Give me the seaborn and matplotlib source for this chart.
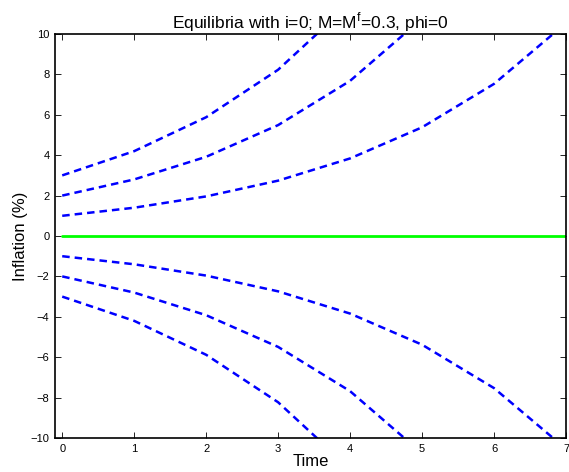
import matplotlib
matplotlib.use("Agg")
import matplotlib.pyplot as plt
import seaborn as sns
import pandas as pd

# Inflation paths over time for each equilibrium
time = [0, 1, 2, 3, 4, 5, 6, 7]
path_p1 = [1.00, 1.40, 1.96, 2.74, 3.84, 5.38, 7.53, 10.54]
path_p2 = [2.00, 2.80, 3.92, 5.49, 7.68, 10.76, 15.06, 21.08]
path_p3 = [3.00, 4.20, 5.88, 8.23, 11.52, 16.13, 22.59, 31.62]
path_m1 = [-1.00, -1.40, -1.96, -2.74, -3.84, -5.38, -7.53, -10.54]
path_m2 = [-2.00, -2.80, -3.92, -5.49, -7.68, -10.76, -15.06, -21.08]
path_m3 = [-3.00, -4.20, -5.88, -8.23, -11.52, -16.13, -22.59, -31.62]
path_zero = [0, 0, 0, 0, 0, 0, 0, 0]

x_ticks = [0, 1, 2, 3, 4, 5, 6, 7]
y_ticks = [-10, -8, -6, -4, -2, 0, 2, 4, 6, 8, 10]

sns.set_style("white", {"text.color": "black", "axes.labelcolor": "black",
                        "xtick.color": "black", "ytick.color": "black"})
plt.rcParams["font.family"] = ["Liberation Sans", "DejaVu Sans"]

paths = {"p3": path_p3, "p2": path_p2, "p1": path_p1,
         "m1": path_m1, "m2": path_m2, "m3": path_m3}
df = pd.concat(
    [pd.DataFrame({"time": time, "inflation": v, "path": k}) for k, v in paths.items()],
    ignore_index=True,
)
df_zero = pd.DataFrame({"time": time, "inflation": path_zero})

fig = plt.figure(figsize=(5.69, 4.72), dpi=100)
ax = fig.add_axes([0.0967, 0.072, 0.898, 0.856])

for name, grp in df.groupby("path"):
    sns.lineplot(data=grp, x="time", y="inflation", ax=ax, color=(0, 0, 1),
                 linewidth=1.8, dashes=False, legend=False)
for ln in ax.get_lines():
    ln.set_dashes((3.0, 2.0))
sns.lineplot(data=df_zero, x="time", y="inflation", ax=ax, color=(0, 1, 0),
             linewidth=2, legend=False)

ax.set_xlim(-0.1, 7)
ax.set_ylim(-10, 10)
ax.set_xticks(x_ticks)
ax.set_yticks(y_ticks)
ax.set_yticklabels([("\u2212" + str(abs(v))) if v < 0 else str(v) for v in y_ticks])
ax.tick_params(direction="in", length=4, width=0.6, labelsize=8, colors="black",
               top=True, right=True, bottom=True, left=True, pad=4)
for s in ax.spines.values():
    s.set_visible(True)
    s.set_color("black")
    s.set_linewidth(1.2)

ax.set_xlabel("Time", fontsize=12, labelpad=0, color="black")
ax.set_ylabel("Inflation (%)", fontsize=12, labelpad=2, color="black")
ax.set_title("Equilibria with i=0; M=M$^{\\mathregular{f}}$=0.3, phi=0",
             fontsize=12.5, pad=4, color="black")

fig.savefig("out.png", dpi=100)
